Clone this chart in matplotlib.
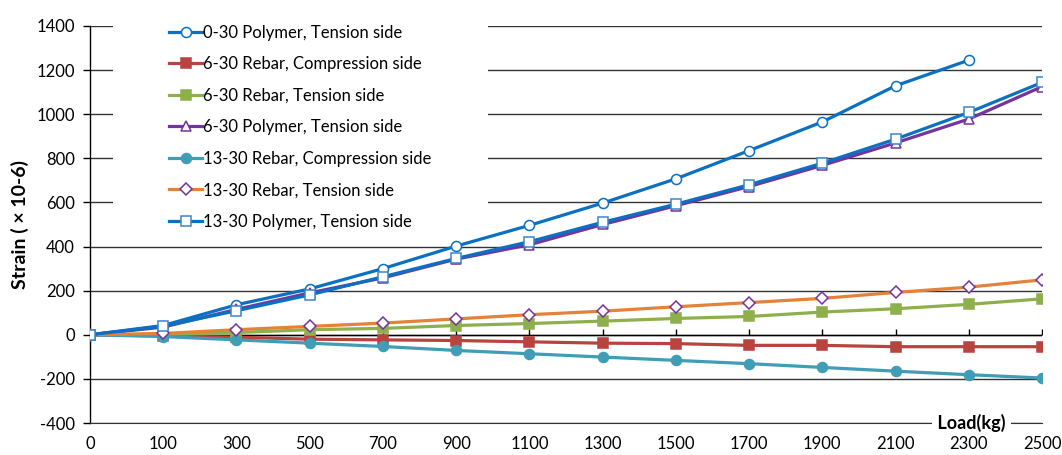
"""
Strain against load for polymer and rebar gauges, tension and compression sides.
"""

import matplotlib.pyplot as plt
from matplotlib.patches import Rectangle

plt.rcParams["font.family"] = ["Lato", "DejaVu Sans"]
plt.rcParams["axes.unicode_minus"] = False

loads = ["0", "100", "300", "500", "700", "900", "1100", "1300",
         "1500", "1700", "1900", "2100", "2300", "2500"]

polymer_0_30_tension = [0, 42, 136, 208, 300, 402, 496, 597, 707, 835, 965, 1129, 1245]
rebar_6_30_compression = [0, -5, -11, -20, -23, -26, -32, -38, -40, -48, -48, -54, -54, -54]
rebar_6_30_tension = [0, 2, 10, 23, 29, 42, 51, 62, 74, 83, 103, 118, 138, 163]
polymer_6_30_tension = [0, 35, 115, 190, 258, 343, 408, 500, 585, 672, 768, 870, 978, 1125]
rebar_13_30_compression = [0, -8, -23, -38, -53, -71, -86, -101, -116, -131, -148, -165, -181, -196]
rebar_13_30_tension = [0, 6, 23, 38, 53, 72, 91, 107, 127, 146, 165, 192, 216, 249]
polymer_13_30_tension = [0, 39, 109, 181, 263, 346, 422, 510, 592, 680, 778, 887, 1008, 1144]

SERIES = [
    ("0-30 Polymer, Tension side", polymer_0_30_tension,
     dict(color="#0a70c2", marker="o", mfc="white", mec="#0a70c2")),
    ("6-30 Rebar, Compression side", rebar_6_30_compression,
     dict(color="#b8433f", marker="s", mfc="#b8433f", mec="#b8433f")),
    ("6-30 Rebar, Tension side", rebar_6_30_tension,
     dict(color="#8db04c", marker="s", mfc="#8db04c", mec="#8db04c")),
    ("6-30 Polymer, Tension side", polymer_6_30_tension,
     dict(color="#7434a0", marker="^", mfc="white", mec="#7434a0")),
    ("13-30 Rebar, Compression side", rebar_13_30_compression,
     dict(color="#3f9db6", marker="o", mfc="#3f9db6", mec="#3f9db6")),
    ("13-30 Rebar, Tension side", rebar_13_30_tension,
     dict(color="#e5823a", marker="D", mfc="white", mec="#7434a0", ms=6.2)),
    ("13-30 Polymer, Tension side", polymer_13_30_tension,
     dict(color="#0a70c2", marker="s", mfc="white", mec="#3a86cc")),
]

fig = plt.figure(figsize=(10.62, 4.55), dpi=100)
ax = fig.add_axes((0.0847, 0.0703, 0.8965, 0.8726))

for label, values, style in SERIES:
    style = dict(style)
    ms = style.pop("ms", 7.2)
    ax.plot(loads[:len(values)], values, label=label, linewidth=2.3,
            markersize=ms, markeredgewidth=1.1, zorder=4, **style)

ax.set_xlim(0, len(loads) - 1)
ax.set_ylim(-400, 1400)
ax.set_yticks(range(-400, 1401, 200))
ax.grid(True, axis="y", color="#333333", linewidth=1.0, zorder=1)
ax.set_axisbelow(True)

# zero axis line with small upward ticks at each load step
ax.axhline(0, color="black", linewidth=1.0, zorder=2)
ax.plot(loads, [0] * len(loads), linestyle="none", marker=2, markersize=4,
        markeredgewidth=1.0, color="black", zorder=2)

for side in ("top", "right"):
    ax.spines[side].set_visible(False)
ax.spines["left"].set_linewidth(1.0)
ax.spines["bottom"].set_color("#333333")
ax.tick_params(axis="x", length=0, pad=9, labelsize=12)
ax.tick_params(axis="y", direction="out", length=5, width=1.0, pad=6, labelsize=12)

ax.set_ylabel("Strain ( × 10-6)", fontsize=14, fontweight="bold", labelpad=5)
ax.text(0.926, 0.0, " Load(kg) ", transform=ax.transAxes, ha="center", va="center",
        fontsize=13, fontweight="bold", zorder=5,
        bbox=dict(facecolor="white", edgecolor="none", pad=1))

# white panel behind the legend hides the gridlines there
ax.add_patch(Rectangle((0.024, 0.474), 0.394, 0.56, transform=ax.transAxes,
                       facecolor="white", edgecolor="none", zorder=3, clip_on=False))
ax.legend(loc="upper left", bbox_to_anchor=(0.076, 1.02), frameon=False,
          fontsize=12, handlelength=2.0, handletextpad=0.05, labelspacing=0.93,
          borderaxespad=0)

fig.savefig("out.png", dpi=100)
